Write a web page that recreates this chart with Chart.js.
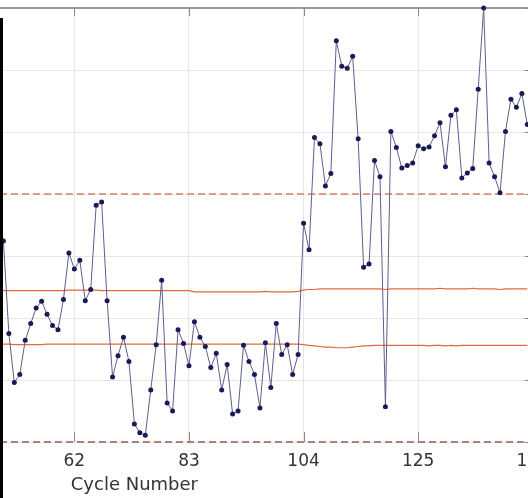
<!DOCTYPE html>
<html>
<head>
<meta charset="utf-8">
<script src="https://cdn.jsdelivr.net/npm/chart.js@4/dist/chart.umd.min.js"></script>
<style>
  body { margin: 0; background: #fff; overflow: hidden; width: 528px; height: 498px; position: relative; }
  #wrap { position: absolute; left: -268px; top: 0; width: 826px; height: 498px; }
  #edge { position: absolute; left: 0; top: 18px; width: 3px; height: 480px; background: #000; }
</style>
</head>
<body>
<div id="wrap"><canvas id="chart"></canvas></div>
<div id="edge"></div>
<script>
/* Datos */
var firstCycle = 48;
var measured = [
    3.66, 3.24, 1.75, 0.96, 1.09, 1.64, 1.91, 2.16, 2.27, 2.06,
    1.88, 1.81, 2.30, 3.05, 2.79, 2.93, 2.28, 2.46, 3.82, 3.87,
    2.28, 1.05, 1.39, 1.69, 1.30, 0.29, 0.15, 0.11, 0.84, 1.57,
    2.61, 0.63, 0.50, 1.81, 1.59, 1.23, 1.94, 1.69, 1.54, 1.20,
    1.43, 0.84, 1.25, 0.45, 0.50, 1.56, 1.30, 1.09, 0.55, 1.60,
    0.88, 1.91, 1.41, 1.57, 1.09, 1.41, 3.53, 3.10, 4.91, 4.81,
    4.13, 4.33, 6.47, 6.06, 6.03, 6.22, 4.89, 2.82, 2.87, 4.54,
    4.28, 0.57, 5.01, 4.75, 4.42, 4.46, 4.50, 4.78, 4.73, 4.76,
    4.94, 5.15, 4.44, 5.27, 5.36, 4.26, 4.34, 4.41, 5.69, 7.00,
    4.50, 4.28, 4.02, 5.01, 5.53, 5.40, 5.62, 5.12
];
var upperLine = [
    2.44, 2.44, 2.44, 2.44, 2.44, 2.44, 2.44, 2.44, 2.44, 2.44, 2.44, 2.44, 2.44,
    2.45, 2.45, 2.45, 2.45, 2.45, 2.45,
    2.44, 2.44, 2.44, 2.44, 2.44, 2.44, 2.44, 2.44, 2.44, 2.44, 2.44, 2.44, 2.44, 2.44, 2.44, 2.44, 2.44,
    2.42, 2.42, 2.42, 2.42, 2.42, 2.42, 2.42, 2.42, 2.42, 2.42, 2.42, 2.42, 2.42,
    2.43,
    2.42, 2.42, 2.42, 2.42, 2.42,
    2.43,
    2.45, 2.46, 2.46, 2.47, 2.47,
    2.47, 2.47, 2.47, 2.47, 2.47, 2.47, 2.47, 2.47, 2.47, 2.47,
    2.46,
    2.47, 2.47, 2.47, 2.47, 2.47, 2.47, 2.47, 2.47, 2.47, 2.48,
    2.47, 2.47, 2.47, 2.47, 2.47, 2.48, 2.47, 2.47, 2.47, 2.47,
    2.46, 2.47, 2.47, 2.47, 2.47, 2.47
];
var lowerLine = [
    1.58, 1.58, 1.58,
    1.57, 1.57, 1.57, 1.57, 1.57, 1.57,
    1.58, 1.58, 1.58, 1.58, 1.58, 1.58, 1.58, 1.58, 1.58, 1.58,
    1.58, 1.58, 1.58, 1.58, 1.58, 1.58, 1.58, 1.58, 1.58, 1.58,
    1.58, 1.58, 1.58, 1.58, 1.58, 1.58, 1.58, 1.58, 1.58, 1.58,
    1.58, 1.58, 1.58, 1.58, 1.58, 1.58, 1.58, 1.58, 1.58, 1.58,
    1.58, 1.58, 1.58, 1.58, 1.58, 1.58, 1.58,
    1.57, 1.56, 1.55, 1.54, 1.53, 1.53, 1.52, 1.52, 1.52, 1.53, 1.54, 1.55, 1.55,
    1.56, 1.56, 1.56, 1.56, 1.56, 1.56, 1.56, 1.56, 1.56, 1.56,
    1.55, 1.56, 1.56, 1.55, 1.56, 1.55, 1.56, 1.56, 1.56, 1.56,
    1.56, 1.56, 1.56, 1.56, 1.56, 1.56, 1.56, 1.56, 1.56
];
var uclValue = 4.0;
var lclValue = 0.0;
var xTicks = [20, 41, 62, 83, 104, 125, 146];
var xMin = 0, xMax = 146;

function toPoints(arr) {
    return arr.map(function (v, i) { return { x: firstCycle + i, y: v }; });
}

/* marcas hacia adentro en los bordes */
var innerTicks = {
    id: 'innerTicks',
    afterDraw: function (chart) {
        var ctx = chart.ctx, area = chart.chartArea;
        var xs = chart.scales.x, ys = chart.scales.y;
        ctx.save();
        ctx.strokeStyle = '#8a8a8a';
        ctx.lineWidth = 1;
        xTicks.forEach(function (t) {
            var px = Math.round(xs.getPixelForValue(t)) + 0.5;
            ctx.beginPath();
            ctx.moveTo(px, area.top); ctx.lineTo(px, area.top + 8);
            ctx.moveTo(px, area.bottom); ctx.lineTo(px, area.bottom - 10);
            ctx.stroke();
        });
        for (var v = 0; v <= 7; v++) {
            var py = Math.round(ys.getPixelForValue(v)) + 0.5;
            ctx.beginPath();
            ctx.moveTo(area.right, py); ctx.lineTo(area.right - 8, py);
            ctx.stroke();
        }
        ctx.restore();
    }
};

var ctx = document.getElementById('chart').getContext('2d');
var myChart = new Chart(ctx, {
    type: 'line',
    data: {
        datasets: [{
            label: 'Medida',
            data: toPoints(measured),
            borderColor: '#5e5e8e',
            borderWidth: 1,
            pointRadius: 2.5,
            pointBackgroundColor: '#1a1a58',
            pointBorderColor: '#1a1a58',
            pointBorderWidth: 0,
            tension: 0,
            clip: false
        }, {
            label: 'Superior',
            data: toPoints(upperLine),
            borderColor: '#e06a3a',
            borderWidth: 1.2,
            pointRadius: 0,
            tension: 0
        }, {
            label: 'Inferior',
            data: toPoints(lowerLine),
            borderColor: '#e06a3a',
            borderWidth: 1.2,
            pointRadius: 0,
            tension: 0
        }, {
            label: 'UCL',
            data: [{ x: xMin, y: uclValue }, { x: xMax, y: uclValue }],
            borderColor: 'rgba(205, 100, 70, 0.8)',
            borderDash: [7, 4],
            borderWidth: 1.4,
            pointRadius: 0
        }, {
            label: 'LCL',
            data: [{ x: xMin, y: lclValue }, { x: xMax, y: lclValue }],
            borderColor: 'rgba(140, 75, 60, 0.9)',
            borderDash: [7, 4],
            borderWidth: 1.6,
            pointRadius: 0,
            clip: false
        }]
    },
    options: {
        responsive: true,
        maintainAspectRatio: false,
        animation: false,
        layout: { padding: { top: 8, right: 20, left: 0, bottom: 0 } },
        plugins: {
            legend: { display: false },
            tooltip: { enabled: false }
        },
        scales: {
            x: {
                type: 'linear',
                min: xMin,
                max: xMax,
                afterBuildTicks: function (scale) {
                    scale.ticks = xTicks.map(function (v) { return { value: v }; });
                },
                ticks: {
                    autoSkip: false,
                    maxRotation: 0,
                    padding: 9,
                    color: '#333',
                    font: { family: 'DejaVu Sans', size: 17 }
                },
                grid: { drawTicks: false, color: '#e6e6e6' },
                border: { display: false },
                title: {
                    display: true,
                    text: 'Cycle Number',
                    color: '#333',
                    font: { family: 'DejaVu Sans', size: 18 },
                    padding: { top: -6, bottom: 2 }
                }
            },
            y: {
                min: 0,
                max: 7,
                ticks: { display: false, stepSize: 1 },
                grid: {
                    drawTicks: false,
                    color: function (c) { return c.tick && c.tick.value === 7 ? '#9a9a9a' : '#e6e6e6'; },
                    lineWidth: function (c) { return c.tick && c.tick.value === 7 ? 2 : 1; }
                },
                border: { display: false }
            }
        }
    },
    plugins: [innerTicks]
});
</script>
</body>
</html>
